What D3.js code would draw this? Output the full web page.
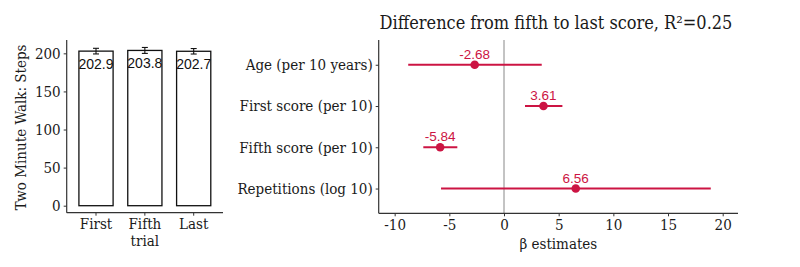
<!DOCTYPE html>
<html>
<head>
<meta charset="utf-8">
<script src="https://cdn.jsdelivr.net/npm/d3@7"></script>
<style>
  body { margin: 0; background: #fff; }
  text { font-family: "DejaVu Serif Condensed", "DejaVu Serif", serif; font-stretch: condensed; fill: #1a1a1a; }
  text.num { font-family: "Liberation Sans", Arial, sans-serif; font-stretch: normal; }
</style>
</head>
<body>
<svg id="mainFrame"></svg>
<script>
// left panel: steps per trial
const trials = ['First', 'Fifth', 'Last'];
const stepMeans = [202.9, 203.8, 202.7];
const stepErr = [3.7, 3.9, 3.6];
const stepTicks = [0, 50, 100, 150, 200];

// right panel: regression estimates
const terms = ['Age (per 10 years)', 'First score (per 10)', 'Fifth score (per 10)', 'Repetitions (log 10)'];
const estimates = [-2.68, 3.61, -5.84, 6.56];
const ciLow = [-8.76, 1.92, -7.38, -5.76];
const ciHigh = [3.45, 5.34, -4.27, 18.91];
const betaTicks = [-10, -5, 0, 5, 10, 15, 20];

const red = '#cc1443';
const axisCol = '#333';
const fs = '15px';

const svg = d3.select('#mainFrame')
    .attr('width', 800)
    .attr('height', 267);

const styleTicks = sel => sel.selectAll('.tick text')
    .style('font-size', fs)
    .attr('fill', '#222');

// ---- left panel ----
const left = { x0: 66.7, x1: 223, y0: 40, y1: 212.7 };

const xBand = d3.scaleBand()
    .domain(trials)
    .range([left.x0, left.x1])
    .paddingInner(0.3)
    .paddingOuter(0.25);

const yLin = d3.scaleLinear()
    .domain([0, 217.5])
    .range([205.7, 40]);

const gl = svg.append('g');

gl.selectAll('rect.bar').data(trials)
    .enter().append('rect')
        .attr('class', 'bar')
        .attr('x', d => xBand(d))
        .attr('width', xBand.bandwidth())
        .attr('y', (d, i) => yLin(stepMeans[i]))
        .attr('height', (d, i) => yLin(0) - yLin(stepMeans[i]))
        .attr('fill', '#fff')
        .attr('stroke', '#111')
        .attr('stroke-width', 1.3);

// error bars
const eb = gl.selectAll('g.eb').data(trials)
    .enter().append('g')
        .attr('class', 'eb')
        .attr('transform', d => `translate(${xBand(d) + xBand.bandwidth() / 2},0)`);
eb.append('line')
    .attr('y1', (d, i) => yLin(stepMeans[i] - stepErr[i]))
    .attr('y2', (d, i) => yLin(stepMeans[i] + stepErr[i]))
    .attr('stroke', '#111').attr('stroke-width', 1.1);
[-1, 1].forEach(s => {
    eb.append('line')
        .attr('x1', -3).attr('x2', 3)
        .attr('y1', (d, i) => yLin(stepMeans[i] + s * stepErr[i]))
        .attr('y2', (d, i) => yLin(stepMeans[i] + s * stepErr[i]))
        .attr('stroke', '#111').attr('stroke-width', 1.1);
});

gl.selectAll('text.barText').data(trials)
    .enter().append('text')
        .attr('class', 'num')
        .attr('text-anchor', 'middle')
        .attr('x', d => xBand(d) + xBand.bandwidth() / 2)
        .attr('y', (d, i) => yLin(stepMeans[i]) + 18)
        .style('font-size', '14px')
        .style('fill', '#111')
        .text((d, i) => stepMeans[i].toFixed(1));

// axes lines
gl.append('line')
    .attr('x1', left.x0).attr('x2', left.x0)
    .attr('y1', left.y0).attr('y2', left.y1)
    .attr('stroke', axisCol).attr('stroke-width', 1.2);
gl.append('line')
    .attr('x1', left.x0).attr('x2', left.x1)
    .attr('y1', left.y1).attr('y2', left.y1)
    .attr('stroke', axisCol).attr('stroke-width', 1.2);

const yAxisL = gl.append('g')
    .attr('transform', `translate(${left.x0},0)`)
    .call(d3.axisLeft(yLin).tickValues(stepTicks).tickSize(3).tickPadding(3));
yAxisL.select('.domain').remove();
yAxisL.selectAll('.tick line').attr('stroke', axisCol);
styleTicks(yAxisL);

const xAxisL = gl.append('g')
    .attr('transform', `translate(0,${left.y1})`)
    .call(d3.axisBottom(xBand).tickSize(3).tickPadding(3));
xAxisL.select('.domain').remove();
xAxisL.selectAll('.tick line').attr('stroke', axisCol);
styleTicks(xAxisL);
xAxisL.selectAll('.tick').filter(d => d === 'Fifth')
    .append('text')
        .attr('y', 22.5)
        .attr('dy', '0.71em')
        .attr('text-anchor', 'middle')
        .style('font-size', fs)
        .attr('fill', '#222')
        .text('trial');

gl.append('text')
    .attr('transform', `translate(26,${(left.y0 + left.y1) / 2 + 1}) rotate(-90)`)
    .attr('text-anchor', 'middle')
    .style('font-size', fs)
    .text('Two Minute Walk: Steps');

// ---- right panel ----
const right = { x0: 378.7, x1: 738, y0: 40, y1: 213.3 };

const xBeta = d3.scaleLinear()
    .domain([-11.46, 21.4])
    .range([right.x0, right.x1]);

const yTerm = d3.scalePoint()
    .domain(terms)
    .range([right.y0, right.y1])
    .padding(0.6);

const gr = svg.append('g');

gr.append('text')
    .attr('x', 556)
    .attr('y', 29)
    .attr('text-anchor', 'middle')
    .style('font-size', '18px')
    .text('Difference from fifth to last score, R²=0.25');

// zero line
gr.append('line')
    .attr('x1', xBeta(0)).attr('x2', xBeta(0))
    .attr('y1', right.y0).attr('y2', right.y1)
    .attr('stroke', '#888').attr('stroke-width', 1);

const rows = gr.selectAll('g.row').data(terms)
    .enter().append('g')
        .attr('class', 'row')
        .attr('transform', d => `translate(0,${yTerm(d)})`);

rows.append('line')
    .attr('x1', (d, i) => xBeta(ciLow[i]))
    .attr('x2', (d, i) => xBeta(ciHigh[i]))
    .attr('stroke', red).attr('stroke-width', 2);

rows.append('circle')
    .attr('cx', (d, i) => xBeta(estimates[i]))
    .attr('r', 4.3)
    .attr('fill', red);

rows.append('text')
    .attr('class', 'num')
    .attr('x', (d, i) => xBeta(estimates[i]))
    .attr('y', -6)
    .attr('text-anchor', 'middle')
    .style('font-size', '13.5px')
    .style('fill', red)
    .text((d, i) => estimates[i].toFixed(2));

// axis lines
gr.append('line')
    .attr('x1', right.x0).attr('x2', right.x0)
    .attr('y1', right.y0).attr('y2', right.y1)
    .attr('stroke', axisCol).attr('stroke-width', 1.2);
gr.append('line')
    .attr('x1', right.x0).attr('x2', right.x1)
    .attr('y1', right.y1).attr('y2', right.y1)
    .attr('stroke', axisCol).attr('stroke-width', 1.2);

const yAxisR = gr.append('g')
    .attr('transform', `translate(${right.x0},0)`)
    .call(d3.axisLeft(yTerm).tickSize(3).tickPadding(3));
yAxisR.select('.domain').remove();
yAxisR.selectAll('.tick line').attr('stroke', axisCol);
styleTicks(yAxisR);

const xAxisR = gr.append('g')
    .attr('transform', `translate(0,${right.y1})`)
    .call(d3.axisBottom(xBeta).tickValues(betaTicks)
        .tickFormat(d => String(d))      // plain hyphen minus, like the original
        .tickSize(3).tickPadding(3));
xAxisR.select('.domain').remove();
xAxisR.selectAll('.tick line').attr('stroke', axisCol);
styleTicks(xAxisR);

gr.append('text')
    .attr('x', (right.x0 + right.x1) / 2)
    .attr('y', 249)
    .attr('text-anchor', 'middle')
    .style('font-size', fs)
    .text('β estimates');
</script>
</body>
</html>
